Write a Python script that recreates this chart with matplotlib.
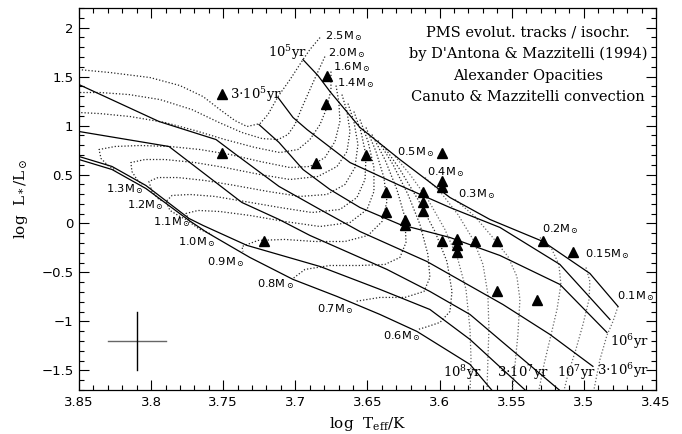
import matplotlib
matplotlib.use("Agg")
import matplotlib.pyplot as plt
from matplotlib.ticker import MultipleLocator, FuncFormatter

# --- evolutionary tracks (log Teff, log L) ---
trk25_T = [3.6829, 3.6899, 3.6947, 3.7037, 3.712, 3.719, 3.7245, 3.7335, 3.7419, 3.7523, 3.764, 3.78, 3.8008, 3.8285, 3.85, 3.86]
trk25_L = [1.898, 1.776, 1.673, 1.469, 1.296, 1.112, 1.020, 0.990, 1.051, 1.163, 1.296, 1.408, 1.490, 1.541, 1.571, 1.58]
trk20_T = [3.6795, 3.6843, 3.6899, 3.6954, 3.7003, 3.7051, 3.712, 3.7231, 3.737, 3.7529, 3.7717, 3.7938, 3.8153, 3.8354, 3.85, 3.86]
trk20_L = [1.704, 1.551, 1.367, 1.184, 1.010, 0.908, 0.857, 0.867, 0.929, 1.031, 1.163, 1.265, 1.316, 1.337, 1.337, 1.337]
trk16_T = [3.6753, 3.6753, 3.6781, 3.6829, 3.6899, 3.6982, 3.7107, 3.728, 3.7488, 3.7696, 3.7904, 3.8146, 3.8354, 3.85, 3.86]
trk16_L = [1.551, 1.367, 1.184, 1.010, 0.857, 0.755, 0.724, 0.776, 0.857, 0.949, 1.031, 1.092, 1.122, 1.133, 1.14]
trk14_T = [3.6718, 3.6698, 3.6691, 3.6725, 3.6795, 3.6899, 3.7037, 3.7245, 3.7453, 3.7661, 3.7869, 3.8077, 3.825, 3.8361, 3.8347, 3.8299, 3.8243]
trk14_L = [1.408, 1.235, 1.041, 0.837, 0.673, 0.582, 0.571, 0.633, 0.704, 0.755, 0.786, 0.796, 0.786, 0.755, 0.663, 0.592, 0.541]
trk13_T = [3.6677, 3.6642, 3.6621, 3.6642, 3.6711, 3.6843, 3.7037, 3.7245, 3.7488, 3.7696, 3.7904, 3.8042, 3.814, 3.8133, 3.8098, 3.8063]
trk13_L = [1.316, 1.143, 0.939, 0.735, 0.582, 0.480, 0.449, 0.500, 0.571, 0.622, 0.653, 0.653, 0.622, 0.531, 0.449, 0.398]
trk12_T = [3.6635, 3.6594, 3.6566, 3.6587, 3.6656, 3.6781, 3.6968, 3.719, 3.7419, 3.7627, 3.7814, 3.7952, 3.8015, 3.7994, 3.7952, 3.7918]
trk12_L = [1.224, 1.041, 0.806, 0.571, 0.398, 0.296, 0.276, 0.327, 0.388, 0.439, 0.469, 0.469, 0.429, 0.327, 0.255, 0.224]
trk11_T = [3.6594, 3.6545, 3.651, 3.6517, 3.6573, 3.6691, 3.6885, 3.7107, 3.7349, 3.7557, 3.773, 3.7855, 3.7897, 3.7869, 3.78, 3.7744]
trk11_L = [1.143, 0.939, 0.694, 0.449, 0.265, 0.143, 0.112, 0.163, 0.224, 0.276, 0.296, 0.286, 0.224, 0.133, 0.071, 0.031]
trk10_T = [3.6552, 3.6496, 3.6455, 3.6455, 3.6503, 3.6621, 3.6829, 3.7072, 3.7315, 3.7523, 3.7675, 3.7758, 3.773, 3.7661, 3.7578]
trk10_L = [1.061, 0.837, 0.571, 0.327, 0.143, 0.010, -0.031, 0.020, 0.082, 0.122, 0.133, 0.102, 0.010, -0.061, -0.112]
trk09_T = [3.651, 3.6441, 3.6386, 3.6365, 3.6399, 3.6496, 3.6656, 3.6864, 3.7072, 3.7259, 3.737, 3.7363]
trk09_L = [0.980, 0.735, 0.469, 0.224, 0.020, -0.122, -0.184, -0.184, -0.163, -0.173, -0.235, -0.286]
trk08_T = [3.6469, 3.6379, 3.6296, 3.624, 3.6233, 3.6275, 3.6379, 3.6552, 3.676, 3.6933, 3.7016]
trk08_L = [0.908, 0.653, 0.347, 0.061, -0.194, -0.347, -0.418, -0.429, -0.429, -0.469, -0.561]
trk07_T = [3.6427, 3.6323, 3.6219, 3.6136, 3.6081, 3.6067, 3.6108, 3.624, 3.6413, 3.6587]
trk07_L = [0.847, 0.602, 0.296, -0.010, -0.316, -0.551, -0.694, -0.755, -0.755, -0.796]
trk06_T = [3.6386, 3.6275, 3.615, 3.6032, 3.5949, 3.5914, 3.5928, 3.5997, 3.6101, 3.615]
trk06_L = [0.786, 0.551, 0.245, -0.082, -0.388, -0.694, -0.898, -1.010, -1.061, -1.082]
trk05_T = [3.6309, 3.6205, 3.6081, 3.5963, 3.5873, 3.5817, 3.5789, 3.5782, 3.5789]
trk05_L = [0.684, 0.500, 0.245, -0.061, -0.367, -0.673, -1.082, -1.388, -1.75]
trk04_T = [3.6101, 3.5997, 3.5873, 3.5768, 3.5699, 3.5665, 3.5658, 3.5665, 3.5672]
trk04_L = [0.469, 0.327, 0.092, -0.163, -0.418, -0.724, -1.082, -1.388, -1.75]
trk03_T = [3.5893, 3.5755, 3.5637, 3.5526, 3.5464, 3.5443, 3.5457, 3.5477, 3.5498]
trk03_L = [0.245, 0.071, -0.133, -0.337, -0.541, -0.776, -1.133, -1.439, -1.75]
trk02_T = [3.5304, 3.5221, 3.5173, 3.5159, 3.5186, 3.5235, 3.5276, 3.5318]
trk02_L = [-0.143, -0.265, -0.418, -0.622, -0.878, -1.184, -1.439, -1.75]
trk015_T = [3.4985, 3.4958, 3.4964, 3.5006, 3.5055, 3.511, 3.5145]
trk015_L = [-0.449, -0.592, -0.776, -1.031, -1.286, -1.541, -1.75]
trk01_T = [3.4763, 3.4798, 3.484, 3.4888, 3.4937]
trk01_L = [-0.847, -1.0, -1.143, -1.388, -1.75]

# --- isochrones ---
iso1e5_T = [3.6947, 3.6843, 3.676, 3.6552, 3.6275, 3.5928, 3.5651, 3.5283, 3.4958, 3.4763]
iso1e5_L = [1.673, 1.510, 1.347, 0.980, 0.653, 0.265, 0.041, -0.184, -0.510, -0.847]
iso3e5_T = [3.712, 3.7016, 3.6919, 3.6829, 3.6621, 3.6275, 3.5928, 3.5581, 3.5166, 3.4819]
iso3e5_L = [1.286, 1.082, 0.959, 0.857, 0.622, 0.388, 0.163, -0.041, -0.418, -0.980]
iso1e6_T = [3.7252, 3.7113, 3.6947, 3.676, 3.6552, 3.6275, 3.5928, 3.5581, 3.5166, 3.484]
iso1e6_L = [1.010, 0.827, 0.551, 0.347, 0.163, -0.010, -0.143, -0.327, -0.622, -1.112]
iso3e6_T = [3.8562, 3.85, 3.7945, 3.755, 3.7412, 3.7113, 3.6829, 3.6552, 3.6088, 3.5561, 3.5235, 3.4937]
iso3e6_L = [1.459, 1.418, 1.041, 0.857, 0.704, 0.378, 0.143, -0.082, -0.388, -0.827, -1.133, -1.459]
iso1e7_T = [3.8562, 3.85, 3.7876, 3.737, 3.7113, 3.6899, 3.6365, 3.6067, 3.5789, 3.5561, 3.5130]
iso1e7_L = [0.959, 0.939, 0.786, 0.214, 0.041, -0.122, -0.469, -0.694, -0.929, -1.214, -1.75]
iso3e7_T = [3.8562, 3.85, 3.8271, 3.8036, 3.7737, 3.764, 3.7335, 3.6829, 3.6413, 3.6067, 3.5789, 3.5370]
iso3e7_L = [0.714, 0.684, 0.582, 0.388, 0.051, -0.020, -0.224, -0.439, -0.673, -0.878, -1.184, -1.75]
iso1e8_T = [3.8562, 3.85, 3.8271, 3.8036, 3.7737, 3.7613, 3.7315, 3.7016, 3.6711, 3.6413, 3.6157, 3.5789, 3.5610]
iso1e8_L = [0.684, 0.653, 0.551, 0.357, 0.031, -0.092, -0.347, -0.571, -0.745, -0.929, -1.102, -1.439, -1.75]

# --- observed stars ---
star_T = [3.751, 3.678, 3.679, 3.751, 3.686, 3.651, 3.598, 3.637, 3.6115, 3.598, 3.598,
          3.6115, 3.6115, 3.637, 3.624, 3.624, 3.722, 3.598, 3.588, 3.588, 3.588,
          3.5755, 3.560, 3.528, 3.5075, 3.560, 3.5325]
star_L = [1.32, 1.51, 1.22, 0.72, 0.62, 0.70, 0.72, 0.32, 0.32, 0.43, 0.37,
          0.22, 0.13, 0.12, 0.04, -0.02, -0.18, -0.18, -0.16, -0.22, -0.29,
          -0.18, -0.18, -0.18, -0.29, -0.69, -0.78]

# typical error bar
err_T, err_L = 3.81, -1.2
err_dT, err_dL = 0.02, 0.3

# --- labels ---
mass_text = ["2.5", "2.0", "1.6", "1.4", "1.3", "1.2", "1.1", "1.0", "0.9",
             "0.8", "0.7", "0.6", "0.5", "0.4", "0.3", "0.2", "0.15", "0.1"]
mass_lab_T = [3.6795, 3.6774, 3.6739, 3.6711, 3.8313, 3.8167, 3.7987, 3.7814, 3.7613,
              3.7266, 3.685, 3.6393, 3.6296, 3.6088, 3.5873, 3.529, 3.4992, 3.477]
mass_lab_L = [1.918, 1.735, 1.595, 1.435, 0.347, 0.184, 0.010, -0.194, -0.398,
              -0.622, -0.878, -1.153, 0.724, 0.520, 0.296, -0.061, -0.316, -0.745]

age_text = [r"10$^5$yr", r"3$\cdot$10$^5$yr", r"10$^6$yr", r"3$\cdot$10$^6$yr",
            r"10$^7$yr", r"3$\cdot$10$^7$yr", r"10$^8$yr"]
age_lab_T = [3.719, 3.7453, 3.4819, 3.4909, 3.5186, 3.5602, 3.5977]
age_lab_L = [1.745, 1.316, -1.204, -1.50, -1.52, -1.52, -1.52]

info_lines = ["PMS evolut. tracks / isochr.",
              "by D'Antona & Mazzitelli (1994)",
              "Alexander Opacities",
              "Canuto & Mazzitelli convection"]

plt.rcParams["mathtext.fontset"] = "dejavuserif"

fig = plt.figure(figsize=(6.82, 4.34), dpi=100)
ax = fig.add_axes([0.1158, 0.1014, 0.846, 0.8802])

tracks = [(trk25_T, trk25_L), (trk20_T, trk20_L), (trk16_T, trk16_L), (trk14_T, trk14_L),
          (trk13_T, trk13_L), (trk12_T, trk12_L), (trk11_T, trk11_L), (trk10_T, trk10_L),
          (trk09_T, trk09_L), (trk08_T, trk08_L), (trk07_T, trk07_L), (trk06_T, trk06_L)]
low_tracks = [(trk05_T, trk05_L), (trk04_T, trk04_L), (trk03_T, trk03_L),
              (trk02_T, trk02_L), (trk015_T, trk015_L), (trk01_T, trk01_L)]
for T, L in tracks:
    ax.plot(T, L, color="0.15", lw=0.9, ls=(0, (1, 1.6)))
for T, L in low_tracks:
    ax.plot(T, L, color="0.4", lw=0.9, ls=(0, (1, 1.6)))

isochrones = [(iso1e5_T, iso1e5_L), (iso3e5_T, iso3e5_L), (iso1e6_T, iso1e6_L),
              (iso3e6_T, iso3e6_L), (iso1e7_T, iso1e7_L), (iso3e7_T, iso3e7_L),
              (iso1e8_T, iso1e8_L)]
for T, L in isochrones:
    ax.plot(T, L, color="k", lw=0.9)

ax.plot(star_T, star_L, "^", color="k", ms=6.5, ls="none")

ax.plot([err_T - err_dT, err_T + err_dT], [err_L, err_L], color="0.4", lw=1.0)
ax.plot([err_T, err_T], [err_L - err_dL, err_L + err_dL], color="k", lw=1.0)

for s, T, L in zip(mass_text, mass_lab_T, mass_lab_L):
    ax.text(T, L, s + r"M$_\odot$", fontsize=8.2, family="DejaVu Sans",
            ha="left", va="center")
for s, T, L in zip(age_text, age_lab_T, age_lab_L):
    ax.text(T, L, s, fontsize=9.5, family="DejaVu Serif", ha="left", va="center")

for i, s in enumerate(info_lines):
    ax.text(0.778, 0.935 - i * 0.056, s, transform=ax.transAxes, fontsize=10.5,
            family="DejaVu Serif", ha="center", va="center")

ax.set_xlim(3.85, 3.45)
ax.set_ylim(-1.7, 2.2)
ax.xaxis.set_major_locator(MultipleLocator(0.05))
ax.xaxis.set_minor_locator(MultipleLocator(0.01))
ax.yaxis.set_major_locator(MultipleLocator(0.5))
ax.yaxis.set_minor_locator(MultipleLocator(0.1))
fmt = FuncFormatter(lambda v, p: f"{v:g}".replace("-", "\u2212"))
ax.xaxis.set_major_formatter(fmt)
ax.yaxis.set_major_formatter(fmt)
ax.tick_params(which="both", direction="in", top=True, right=True, width=0.8)
ax.tick_params(which="major", length=7, labelsize=9.5, pad=4)
ax.tick_params(which="minor", length=3.5)
for sp in ax.spines.values():
    sp.set_linewidth(0.9)

ax.set_xlabel(r"log  T$_{\rm eff}$/K", fontsize=11, family="DejaVu Serif", labelpad=5)
ax.set_ylabel(r"log  L$_*$/L$_\odot$", fontsize=11, family="DejaVu Serif", labelpad=8)

fig.savefig("out.png", dpi=100)
